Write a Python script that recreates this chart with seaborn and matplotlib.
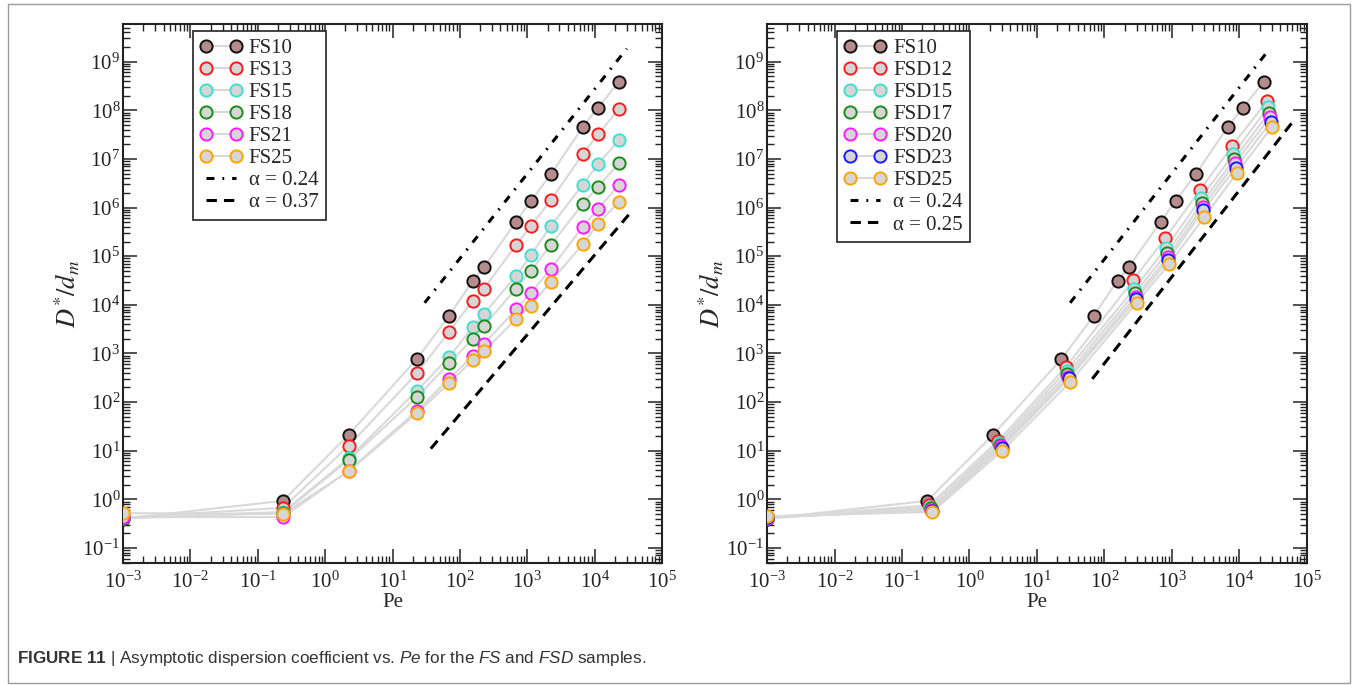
import numpy as np
import pandas as pd
import matplotlib
matplotlib.use("Agg")
import matplotlib.pyplot as plt
import seaborn as sns
from matplotlib.lines import Line2D
from matplotlib.patches import Rectangle
from matplotlib.ticker import LogLocator, NullFormatter, LogFormatterMathtext

# ---------------- data ----------------
pe_fs = [0.001, 0.237, 2.25, 23, 69, 156, 227, 680, 1130, 2240, 6700, 11200, 23000]
d_fs10 = [0.40, 0.93, 21.5, 770, 5900, 31600, 59000, 5.1e5, 1.37e6, 4.8e6, 4.6e7, 1.13e8, 3.9e8]
d_fs13 = [0.42, 0.67, 12.7, 390, 2800, 12100, 21400, 1.68e5, 4.2e5, 1.42e6, 1.26e7, 3.2e7, 1.07e8]
d_fs15 = [0.41, 0.55, 7.0, 172, 830, 3560, 6500, 3.9e4, 1.05e5, 4.2e5, 2.95e6, 7.8e6, 2.45e7]
d_fs18 = [0.41, 0.52, 6.5, 126, 630, 1990, 3670, 2.14e4, 5.0e4, 1.7e5, 1.2e6, 2.7e6, 8.1e6]
d_fs21 = [0.43, 0.43, 3.9, 66, 300, 890, 1550, 8100, 17400, 5.5e4, 4.05e5, 9.4e5, 2.9e6]
d_fs25 = [0.52, 0.50, 3.8, 59, 245, 735, 1100, 5100, 9600, 3.0e4, 1.78e5, 4.58e5, 1.33e6]

pe_fsd12 = [0.001, 0.25, 2.67, 26.6, 267, 790, 2600, 7800, 25800]
pe_fsd15 = [0.001, 0.26, 2.75, 27.4, 274, 810, 2680, 8050, 26600]
pe_fsd17 = [0.001, 0.265, 2.83, 28.2, 282, 835, 2760, 8300, 27400]
pe_fsd20 = [0.001, 0.27, 2.91, 29.0, 290, 860, 2840, 8550, 28200]
pe_fsd23 = [0.001, 0.275, 2.98, 29.9, 295, 885, 2910, 8800, 29200]
pe_fsd25 = [0.001, 0.28, 3.06, 30.8, 300, 912, 2980, 9090, 30300]
d_fsd12 = [0.42, 0.75, 16, 520, 32500, 2.33e5, 2.29e6, 1.85e7, 1.58e8]
d_fsd15 = [0.41, 0.68, 14.5, 443, 21000, 1.46e5, 1.55e6, 1.25e7, 1.15e8]
d_fsd17 = [0.41, 0.65, 13.3, 378, 17400, 1.15e5, 1.22e6, 9.8e6, 8.9e7]
d_fsd20 = [0.42, 0.61, 12.3, 333, 14800, 9.5e4, 1.04e6, 8.1e6, 7.2e7]
d_fsd23 = [0.43, 0.58, 11.3, 310, 13000, 8.36e4, 8.9e5, 6.6e6, 5.8e7]
d_fsd25 = [0.45, 0.55, 10.0, 257, 11100, 6.9e4, 6.3e5, 5.07e6, 4.6e7]

# guide lines (end points)
ref_l_dd_x, ref_l_dd_y = [30, 30000], [1.1e4, 1.85e9]
ref_l_da_x, ref_l_da_y = [37, 32000], [11, 7.1e5]
ref_r_dd_x, ref_r_dd_y = [31, 28300], [1.1e4, 1.88e9]
ref_r_da_x, ref_r_da_y = [66, 61400], [300, 5.8e7]

labels_left = ["FS10", "FS13", "FS15", "FS18", "FS21", "FS25"]
labels_right = ["FS10", "FSD12", "FSD15", "FSD17", "FSD20", "FSD23", "FSD25"]
alpha_left = ["α = 0.24", "α = 0.37"]
alpha_right = ["α = 0.24", "α = 0.25"]
caption = (r"$\mathbf{FIGURE\ 11}$ | Asymptotic dispersion coefficient vs. "
           r"$\mathit{Pe}$ for the $\mathit{FS}$ and $\mathit{FSD}$ samples.")

# ---------------- style ----------------
sns.set_theme(style="ticks")
plt.rcParams["font.family"] = ["Liberation Serif", "DejaVu Serif"]
plt.rcParams["mathtext.fontset"] = "custom"
plt.rcParams["mathtext.rm"] = "Liberation Sans"
plt.rcParams["mathtext.it"] = "Liberation Sans:italic"
plt.rcParams["mathtext.bf"] = "Liberation Sans:bold"

BROWN = "#b48c8c"
GRAYF = "#d6d6d6"
LINEC = "#d9d9d9"
EDGE_FS = {"FS10": "#111111", "FS13": "#ff1a1a", "FS15": "#40e0d0",
           "FS18": "#1a8c1a", "FS21": "#ff1aff", "FS25": "#ffa500"}
EDGE_FSD = {"FS10": "#111111", "FSD12": "#ff1a1a", "FSD15": "#40e0d0",
            "FSD17": "#1a8c1a", "FSD20": "#ff1aff", "FSD23": "#1a1aff", "FSD25": "#ffa500"}

W, H = 1358, 685
fig = plt.figure(figsize=(W / 100, H / 100), dpi=100)
ax_l = fig.add_axes([123 / W, 1 - 563 / H, (662 - 123) / W, (563 - 24) / H])
ax_r = fig.add_axes([767 / W, 1 - 563 / H, (1307 - 767) / W, (563 - 24) / H])

DD = (0, (2.6, 2.6, 0.6, 2.6))
DA = (0, (3.4, 2.3))


def panel(ax, series, refs, alabels):
    ax.set_xscale("log")
    ax.set_yscale("log")
    for name, pe, d, edge in series:
        df = pd.DataFrame({"Pe": pe, "D": d})
        sns.lineplot(data=df, x="Pe", y="D", ax=ax, color=LINEC, lw=1.5,
                     estimator=None, sort=False, zorder=1)
    for name, pe, d, edge in series:
        df = pd.DataFrame({"Pe": pe, "D": d})
        face = BROWN if name == "FS10" else GRAYF
        sns.scatterplot(data=df, x="Pe", y="D", ax=ax, color=face, edgecolor=edge,
                        linewidth=1.4, s=78, zorder=3)
    for (rx, ry), ls in zip(refs, [DD, DA]):
        sns.lineplot(x=rx, y=ry, ax=ax, color="black", lw=2.2, linestyle=ls,
                     estimator=None, sort=False, zorder=2)

    ax.set_xlim(1e-3, 1e5)
    ax.set_ylim(0.049, 5.96e9)
    ax.xaxis.set_major_locator(LogLocator(base=10, numticks=20))
    ax.xaxis.set_minor_locator(LogLocator(base=10, subs=np.arange(2, 10), numticks=100))
    ax.yaxis.set_major_locator(LogLocator(base=10, numticks=20))
    ax.yaxis.set_minor_locator(LogLocator(base=10, subs=np.arange(2, 10), numticks=100))
    ax.xaxis.set_major_formatter(LogFormatterMathtext())
    ax.yaxis.set_major_formatter(LogFormatterMathtext())
    ax.xaxis.set_minor_formatter(NullFormatter())
    ax.yaxis.set_minor_formatter(NullFormatter())
    ax.tick_params(which="both", direction="in", top=True, right=True, colors="#222222")
    ax.tick_params(which="major", length=10, width=1.1, labelsize=15, pad=4)
    ax.tick_params(axis="y", which="major", pad=2)
    ax.tick_params(axis="x", which="major", pad=6)
    ax.tick_params(which="minor", length=5, width=1.0)
    for s in ax.spines.values():
        s.set_linewidth(1.5)
        s.set_color("#222222")
    ax.set_xlabel("Pe", fontsize=15, labelpad=0)
    ax.set_ylabel(r"$D^{*}/d_{m}$", fontsize=19, labelpad=0, math_fontfamily="stix")

    handles = []
    for name, pe, d, edge in series:
        face = BROWN if name == "FS10" else GRAYF
        handles.append(Line2D([], [], color=LINEC, lw=1.5, marker="o", ms=8.8,
                              mfc=face, mec=edge, mew=1.4))
    handles.append(Line2D([], [], color="black", lw=2.2, linestyle=DD))
    handles.append(Line2D([], [], color="black", lw=2.2, linestyle=DA))
    labs = [s[0] for s in series] + alabels
    leg = ax.legend(handles, labs, loc="upper left", bbox_to_anchor=(0.129, 0.987),
                    fontsize=15, numpoints=2, fancybox=False, framealpha=1,
                    edgecolor="#222222", borderpad=0.35, labelspacing=0.12,
                    handlelength=2.05, handletextpad=0.3, borderaxespad=0)
    leg.get_frame().set_linewidth(1.2)


series_l = [(n, pe_fs, d, EDGE_FS[n]) for n, d in zip(
    labels_left, [d_fs10, d_fs13, d_fs15, d_fs18, d_fs21, d_fs25])]
series_r = [("FS10", pe_fs, d_fs10, EDGE_FSD["FS10"])] + [
    (n, pe, d, EDGE_FSD[n]) for n, pe, d in zip(
        labels_right[1:],
        [pe_fsd12, pe_fsd15, pe_fsd17, pe_fsd20, pe_fsd23, pe_fsd25],
        [d_fsd12, d_fsd15, d_fsd17, d_fsd20, d_fsd23, d_fsd25])]

panel(ax_l, series_l, [(ref_l_dd_x, ref_l_dd_y), (ref_l_da_x, ref_l_da_y)], alpha_left)
panel(ax_r, series_r, [(ref_r_dd_x, ref_r_dd_y), (ref_r_da_x, ref_r_da_y)], alpha_right)

# figure frame
fig.patches.append(Rectangle((8 / W, 1 - 683 / H), (1350 - 8) / W, (683 - 4) / H,
                             transform=fig.transFigure, fill=False,
                             edgecolor="#9a9a9a", lw=1.0))

# caption (single text; mathtext uses the sans "custom" set)
fig.text(17 / W, 1 - 659 / H, caption, fontsize=12.3, color="#333333",
         family=["Liberation Sans", "DejaVu Sans"], va="center", ha="left")

fig.savefig("out.png", dpi=100)
